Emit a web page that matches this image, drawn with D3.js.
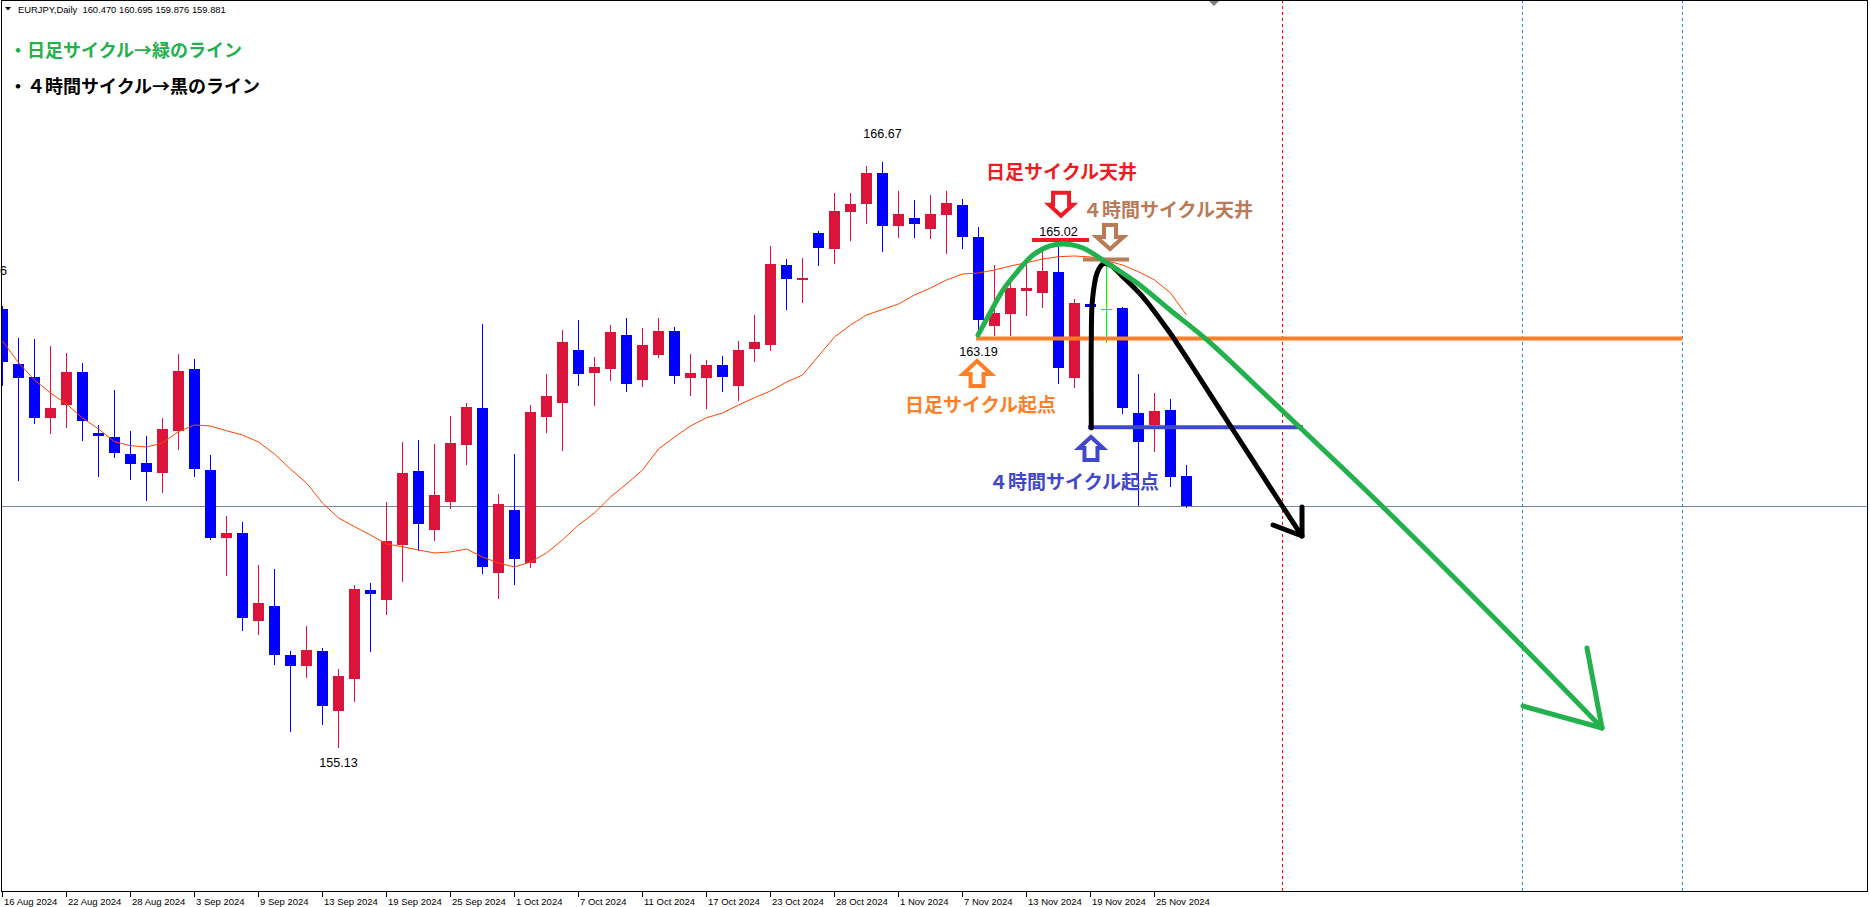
<!DOCTYPE html>
<html>
<head>
<meta charset="utf-8">
<script src="https://cdnjs.cloudflare.com/ajax/libs/d3/7.8.5/d3.min.js"></script>
<style>
	body { margin: 0; background: #ffffff; }
	svg { display: block; }
</style>
</head>
<body>
<svg id="svg1" width="1870" height="907"></svg>
<script>

// EURJPY daily bars, 16 Aug 2024 - 27 Nov 2024 (27 Oct is the broker's sunday bar)
var dates = ["16 Aug","19 Aug","20 Aug","21 Aug","22 Aug","23 Aug","26 Aug","27 Aug","28 Aug","29 Aug","30 Aug",
	"2 Sep","3 Sep","4 Sep","5 Sep","6 Sep","9 Sep","10 Sep","11 Sep","12 Sep","13 Sep","16 Sep","17 Sep","18 Sep","19 Sep","20 Sep",
	"23 Sep","24 Sep","25 Sep","26 Sep","27 Sep","30 Sep","1 Oct","2 Oct","3 Oct","4 Oct","7 Oct","8 Oct","9 Oct","10 Oct","11 Oct",
	"14 Oct","15 Oct","16 Oct","17 Oct","18 Oct","21 Oct","22 Oct","23 Oct","24 Oct","25 Oct","27 Oct","28 Oct","29 Oct","30 Oct","31 Oct",
	"1 Nov","4 Nov","5 Nov","6 Nov","7 Nov","8 Nov","11 Nov","12 Nov","13 Nov","14 Nov","15 Nov","18 Nov","19 Nov","20 Nov","21 Nov",
	"22 Nov","25 Nov","26 Nov","27 Nov"];

var opens = [163.772,162.687,162.431,161.623,161.879,162.530,161.327,161.248,160.913,160.735,160.538,
	161.366,162.589,160.597,159.257,159.355,157.620,157.916,156.950,156.733,157.029,155.846,156.477,158.232,158.034,159.119,
	160.578,159.414,159.967,161.090,161.820,158.567,159.809,158.764,161.642,161.918,162.963,162.510,162.589,163.259,162.372,
	162.865,163.338,162.411,162.411,162.668,162.254,162.983,163.062,164.639,164.344,165.270,164.955,165.684,165.842,166.453,
	165.408,165.566,165.349,165.625,165.822,165.191,163.437,163.673,164.127,164.087,164.501,162.411,163.870,163.772,163.791,
	161.721,161.485,161.780,160.470];

var highs = [163.831,163.200,163.180,163.042,162.904,162.707,161.485,162.175,161.366,161.268,161.623,
	162.885,162.786,160.893,159.691,159.572,158.724,158.646,157.029,157.522,157.088,156.674,158.330,158.370,159.967,161.149,
	161.189,161.110,161.662,161.918,163.476,160.124,160.913,161.879,162.490,163.358,163.555,162.825,163.456,163.594,163.397,
	163.594,163.417,162.885,162.766,162.845,163.141,163.653,165.014,164.758,164.777,165.310,166.059,166.059,166.591,166.670,
	166.098,165.921,166.019,166.098,165.941,165.388,164.639,164.383,164.698,164.935,165.020,163.969,163.949,164.698,163.811,
	162.490,162.116,161.997,160.695];

var lows = [162.273,160.400,161.524,161.327,161.445,161.189,160.479,160.854,160.420,160.006,160.164,
	161.011,160.479,159.237,158.527,157.443,157.364,156.773,155.452,156.516,155.590,155.130,156.043,157.029,157.758,158.409,
	159.020,159.217,159.848,160.716,158.567,158.074,158.350,158.685,161.347,160.992,162.273,161.879,162.372,162.155,162.254,
	162.825,162.313,162.076,161.820,162.155,161.978,162.747,162.963,163.772,163.910,164.639,164.679,165.132,165.467,164.915,
	165.191,165.191,165.172,164.876,164.974,163.190,163.250,163.259,163.653,163.811,162.313,162.234,163.713,163.121,161.721,
	159.907,160.972,160.282,159.876];

var closes = [162.727,162.411,161.623,161.820,162.530,161.564,161.268,160.933,160.716,160.558,161.406,
	162.549,160.617,159.257,159.355,157.679,157.975,156.950,156.733,157.049,155.944,156.536,158.251,158.153,159.198,160.538,
	159.533,160.105,161.130,161.840,158.685,159.927,158.843,161.741,162.056,163.121,162.490,162.628,163.318,162.293,163.062,
	163.338,162.451,162.510,162.668,162.431,162.963,163.121,164.659,164.363,164.383,164.974,165.704,165.842,166.453,165.408,
	165.645,165.448,165.645,165.862,165.191,163.555,163.693,164.186,164.186,164.521,162.609,163.890,163.811,163.772,161.820,
	161.149,161.761,160.459,159.881];

// moving average
var maValues = [163.141,162.713,162.372,162.116,161.899,161.623,161.406,161.155,161.077,161.051,161.130,
	161.353,161.485,161.465,161.372,161.288,161.149,160.913,160.617,160.341,159.947,159.651,159.480,159.316,159.138,159.085,
	159.020,158.961,158.981,159.040,158.882,158.764,158.685,158.784,158.961,159.217,159.513,159.750,160.065,160.321,160.597,
	161.011,161.248,161.465,161.629,161.721,161.879,162.023,162.155,162.332,162.470,162.845,163.220,163.456,163.653,163.762,
	163.870,164.048,164.186,164.344,164.462,164.482,164.541,164.620,164.685,164.758,164.803,164.817,164.797,164.724,164.639,
	164.507,164.344,164.087,163.653];

var tickBars = [0,4,8,12,16,20,24,28,32,36,40,44,48,52,56,60,64,68,72];

var bidPrice = 159.881;
var redDashBars = [80];
var blueDashBars = [95,105];

// hand drawn cycle lines, [bar, price]
var dailyCycle = [[60.97,163.259],[61.72,163.693],[62.53,164.146],[63.41,164.501],[64.41,164.836],[65.47,165.014],
	[66.28,165.053],[67.53,164.974],[69.03,164.679],[70.91,164.284],[72.97,163.752],[75.28,163.161],[77.97,162.372],
	[81.72,161.248],[86.28,159.868],[95.03,157.108],[99.97,155.511]];
var dailyHead = [[99.03,157.088],[99.97,155.511],[95.03,155.944]];

var h4Cycle = [[68.05,161.426],[68.05,163.161],[68.12,163.949],[68.41,164.482],[68.78,164.659],[69.22,164.639],
	[70.03,164.403],[71.28,164.008],[72.97,163.299],[74.22,162.707],[76.91,161.386],[80.03,159.868],[81.22,159.296]];
var h4Head = [[81.22,159.868],[81.22,159.296],[79.41,159.513]];

var dailyStart = {from: 60.85, to: 105, price: 163.19};
var h4Start = {from: 67.84, to: 81.28, price: 161.439};
var dailyTop = {from: 64.34, to: 67.91, price: 165.132};
var h4Top = {from: 67.53, to: 70.41, price: 164.748};

var priceLabels = [
	{bar: 55, text: "166.67", dy: -28},
	{bar: 66, text: "165.02", dy: -13.6},
	{bar: 61, text: "163.19", dy: 13.6},
	{bar: 21, text: "155.13", dy: 15.5}
];


var svg = d3.select("#svg1");
var W = 1870, H = 907, plotRight = 1868, plotBottom = 891;

var x = d3.scaleLinear().domain([0, 1]).range([2.5, 18.5]);
var y = d3.scaleLinear().domain([155.13, 166.67]).range([747.3, 162]);

svg.append("rect").attr("width", W).attr("height", H).attr("fill", "#ffffff");

svg.append("defs").append("clipPath").attr("id", "plot")
	.append("rect").attr("x", 2).attr("y", 1).attr("width", plotRight - 2).attr("height", plotBottom - 1);

var plot = svg.append("g").attr("clip-path", "url(#plot)");

// bid line
plot.append("line")
	.attr("x1", 0).attr("x2", plotRight)
	.attr("y1", Math.round(y(bidPrice)) + 0.5).attr("y2", Math.round(y(bidPrice)) + 0.5)
	.attr("stroke", "#778899").attr("stroke-width", 1);

// period separators
plot.selectAll(".vred").data(redDashBars).enter().append("line")
	.attr("x1", function(d) { return x(d); }).attr("x2", function(d) { return x(d); })
	.attr("y1", 0).attr("y2", plotBottom)
	.attr("stroke", "#ff0000").attr("stroke-dasharray", "3,3");
plot.selectAll(".vblue").data(blueDashBars).enter().append("line")
	.attr("x1", function(d) { return x(d); }).attr("x2", function(d) { return x(d); })
	.attr("y1", 0).attr("y2", plotBottom)
	.attr("stroke", "#1e90ff").attr("stroke-dasharray", "3,3");

// candles
var bars = d3.range(dates.length).map(function(i) {
	return {i: i, o: opens[i], h: highs[i], l: lows[i], c: closes[i]};
});
var candleColor = function(d) {
	if (d.c > d.o) return "#dc143c";
	if (d.c < d.o) return "#0000ff";
	return "#00ff00";
};

var candle = plot.selectAll(".candle").data(bars).enter().append("g").attr("class", "candle")
	.attr("shape-rendering", "crispEdges");

candle.append("line")
	.attr("x1", function(d) { return x(d.i); }).attr("x2", function(d) { return x(d.i); })
	.attr("y1", function(d) { return Math.round(y(d.h)); })
	.attr("y2", function(d) { return Math.round(y(d.l)) + 1; })
	.attr("stroke", candleColor).attr("stroke-width", 1);

candle.append("rect")
	.attr("x", function(d) { return x(d.i) - 5.5; })
	.attr("width", 11)
	.attr("y", function(d) { return Math.round(y(Math.max(d.o, d.c))); })
	.attr("height", function(d) {
		return Math.max(1, Math.round(y(Math.min(d.o, d.c))) - Math.round(y(Math.max(d.o, d.c))));
	})
	.attr("fill", candleColor);

// moving average
plot.append("path")
	.datum(maValues)
	.attr("fill", "none")
	.attr("stroke", "#ff4500")
	.attr("stroke-width", 1)
	.attr("d", d3.line().x(function(d, i) { return x(i); }).y(function(d) { return y(d); }));

// horizontal objects
var hline = function(o, color, width) {
	plot.append("line")
		.attr("x1", x(o.from)).attr("x2", x(o.to))
		.attr("y1", y(o.price)).attr("y2", y(o.price))
		.attr("stroke", color).attr("stroke-width", width);
};
hline(dailyStart, "#ff7f27", 4);
hline(h4Start, "#3f48cc", 4);
hline(dailyTop, "#ed1c24", 4);
hline(h4Top, "#b97a57", 4);

// cycle curves
var cycleLine = d3.line()
	.x(function(d) { return x(d[0]); })
	.y(function(d) { return y(d[1]); })
	.curve(d3.curveCatmullRom);
var headLine = d3.line()
	.x(function(d) { return x(d[0]); })
	.y(function(d) { return y(d[1]); });

plot.append("path").datum(h4Cycle)
	.attr("d", cycleLine).attr("fill", "none").attr("stroke", "#000000")
	.attr("stroke-width", 5).attr("stroke-linecap", "round");
plot.append("path").datum(h4Head)
	.attr("d", headLine).attr("fill", "none").attr("stroke", "#000000")
	.attr("stroke-width", 5).attr("stroke-linecap", "round").attr("stroke-linejoin", "round");

plot.append("path").datum(dailyCycle)
	.attr("d", cycleLine).attr("fill", "none").attr("stroke", "#22b14c")
	.attr("stroke-width", 5).attr("stroke-linecap", "round");
plot.append("path").datum(dailyHead)
	.attr("d", headLine).attr("fill", "none").attr("stroke", "#22b14c")
	.attr("stroke-width", 5).attr("stroke-linecap", "round").attr("stroke-linejoin", "round");

// block arrows, anchored at bar / price, drawn pointing down (dir 1) or up (dir -1)
var blockArrow = function(bar, price, dir, color, shaft, head, len, headLen) {
	var cx = x(bar), y0 = y(price);
	var p = [[-shaft, 0], [shaft, 0], [shaft, len - headLen], [head, len - headLen], [0, len],
		[-head, len - headLen], [-shaft, len - headLen]];
	if (dir < 0) {
		p = p.map(function(q) { return [q[0], len - q[1]]; });
	}
	plot.append("path")
		.attr("d", "M" + p.map(function(q) { return (cx + q[0]) + "," + (y0 + q[1]); }).join("L") + "Z")
		.attr("fill", "#ffffff").attr("stroke", color).attr("stroke-width", 4)
		.attr("stroke-linejoin", "miter");
};
blockArrow(66.16, 166.064, 1, "#ed1c24", 8, 12, 23, 11);
blockArrow(69.22, 165.427, 1, "#b97a57", 6, 13.5, 24, 12);
blockArrow(60.91, 162.746, -1, "#ff7f27", 6.5, 14, 25, 13);
blockArrow(68.03, 161.247, -1, "#3f48cc", 6.5, 12, 23, 11);

// annotation texts
var jp = "'Noto Sans CJK JP', 'Noto Sans CJK SC', sans-serif";
var note = function(bar, price, txt, color) {
	svg.append("text")
		.attr("x", x(bar)).attr("y", y(price))
		.attr("dominant-baseline", "central")
		.style("font-family", jp).style("font-size", "19px").style("font-weight", "bold")
		.attr("fill", color)
		.text(txt);
};
note(61.47, 166.493, "日足サイクル天井", "#ed1c24");
note(67.53, 165.753, "４時間サイクル天井", "#b97a57");
note(56.41, 161.899, "日足サイクル起点", "#ff7f27");
note(61.66, 160.381, "４時間サイクル起点", "#3f48cc");

svg.append("text").attr("x", 9).attr("y", 48.5).attr("dominant-baseline", "central")
	.style("font-family", jp).style("font-size", "18px").style("font-weight", "bold")
	.attr("fill", "#22b14c").text("・日足サイクル→緑のライン");
svg.append("text").attr("x", 9).attr("y", 85).attr("dominant-baseline", "central")
	.style("font-family", jp).style("font-size", "18px").style("font-weight", "bold")
	.attr("fill", "#000000").text("・４時間サイクル→黒のライン");

// high / low price labels
svg.selectAll(".plabel").data(priceLabels).enter().append("text")
	.attr("class", "plabel")
	.attr("x", function(d) { return x(d.bar); })
	.attr("y", function(d) {
		return (d.dy < 0 ? y(highs[d.bar]) : y(lows[d.bar])) + d.dy;
	})
	.attr("text-anchor", "middle").attr("dominant-baseline", "central")
	.style("font-family", "'Liberation Sans', Arial, sans-serif").style("font-size", "12.6px")
	.attr("fill", "#000000")
	.text(function(d) { return d.text; });

// cut off label at the left edge
svg.append("text").attr("x", 7).attr("y", 275).attr("text-anchor", "end")
	.style("font-family", "'Liberation Sans', Arial, sans-serif").style("font-size", "12.6px")
	.text("6");

// frame
var frame = svg.append("g").attr("shape-rendering", "crispEdges").attr("stroke", "#000000").attr("fill", "none");
frame.append("line").attr("x1", 1.5).attr("x2", 1.5).attr("y1", 0).attr("y2", plotBottom + 1);
frame.append("line").attr("x1", 1).attr("x2", plotRight).attr("y1", 0.5).attr("y2", 0.5);
frame.append("line").attr("x1", plotRight - 0.5).attr("x2", plotRight - 0.5).attr("y1", 0).attr("y2", plotBottom + 1);
frame.append("line").attr("x1", 1).attr("x2", plotRight).attr("y1", plotBottom + 0.5).attr("y2", plotBottom + 0.5);

// chart shift marker
svg.append("path").attr("d", "M1209,1L1219,1L1214,6Z").attr("fill", "#808080");

// time axis
var ticks = svg.selectAll(".tick").data(tickBars).enter().append("g").attr("class", "tick");
ticks.append("line")
	.attr("x1", function(d) { return x(d); }).attr("x2", function(d) { return x(d); })
	.attr("y1", plotBottom + 1).attr("y2", plotBottom + 6)
	.attr("stroke", "#000000").attr("shape-rendering", "crispEdges");
ticks.append("text")
	.attr("x", function(d) { return x(d) + 1.5; })
	.attr("y", 905)
	.style("font-family", "'Liberation Sans', Arial, sans-serif").style("font-size", "9.5px")
	.attr("fill", "#000000")
	.text(function(d) { return dates[d] + " 2024"; });

// header
svg.append("path").attr("d", "M5,7L11,7L8,10.5Z").attr("fill", "#000000");
svg.append("text").attr("x", 18).attr("y", 13)
	.style("font-family", "'Liberation Sans', Arial, sans-serif").style("font-size", "9.4px")
	.attr("fill", "#000000").attr("xml:space", "preserve")
	.text("EURJPY,Daily  160.470 160.695 159.876 159.881");

</script>
</body>
</html>
